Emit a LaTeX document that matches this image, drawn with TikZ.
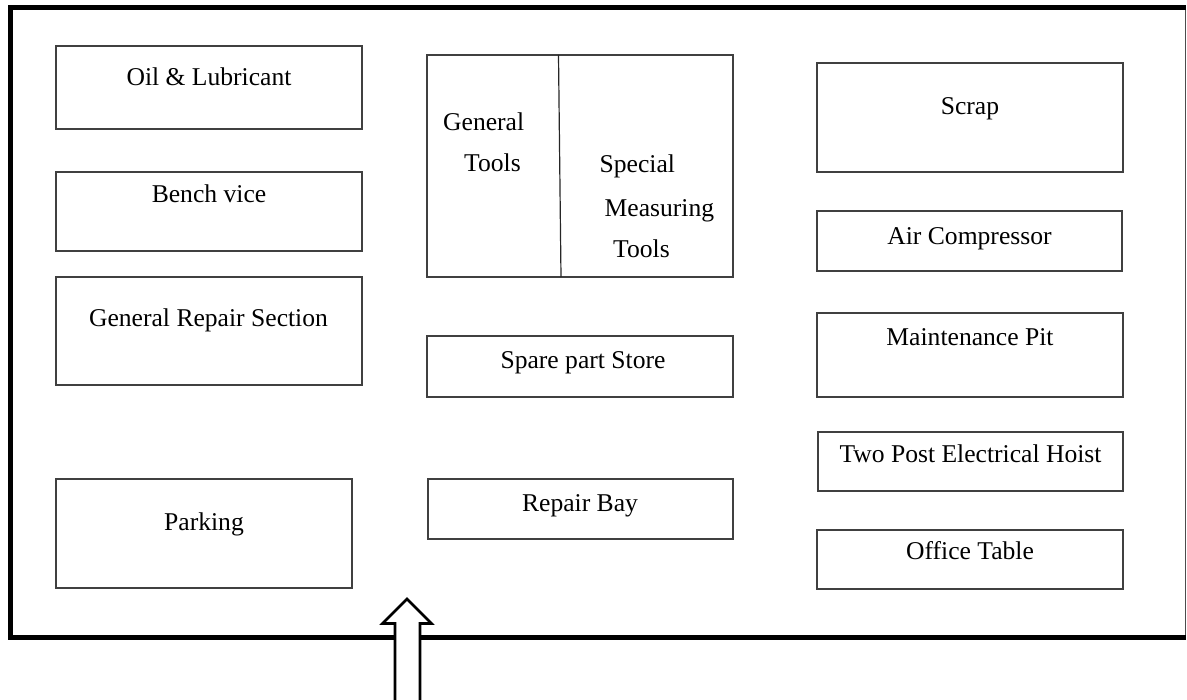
\documentclass[tikz,border=0pt]{standalone}
\usepackage{fontspec}
\setmainfont{Liberation Serif}
\begin{document}
\begin{tikzpicture}[x=1pt,y=-1pt,
  box/.style={draw=black!75, line width=1.2pt, inner sep=0pt, outer sep=0pt, fill=none},
  lbl/.style={inner sep=0pt, anchor=base, font=\fontsize{25.6}{30}\selectfont},
  frame/.style={line width=5.5pt, draw=black},
  entry/.style={draw=black, line width=2.6pt, fill=white, line join=miter}]
\useasboundingbox (0,0) rectangle (1187,700);
% outer frame
\draw[draw=black!70, line width=1.2pt] (1185.5,7.5) -- (1185.5,637.5);
\draw[frame] (1185.5,7.5) -- (10.5,7.5) -- (10.5,637.5) -- (1185.5,637.5);
% left column
\node[box, minimum width=306pt, minimum height=83pt] (oil) at (209,87.5) {};
\node[lbl] (toil) at (209,86) {Oil \& Lubricant};
\node[box, minimum width=306pt, minimum height=79pt] (bench) at (209,211.5) {};
\node[lbl] (tbench) at (209,203) {Bench vice};
\node[box, minimum width=306pt, minimum height=108pt] (grs) at (209,331) {};
\node[lbl] (tgrs) at (208.5,327) {General Repair Section};
\node[box, minimum width=296pt, minimum height=109pt] (park) at (204,533.5) {};
\node[lbl] (tpark) at (204,530.5) {Parking};
% middle column
\node[box, minimum width=306pt, minimum height=222pt] (tools) at (580,166) {};
\draw[draw=black!85, line width=1.2pt] (558.5,55) -- (561,277);
\node[lbl, anchor=base west] (tgen1) at (443,130.5) {General};
\node[lbl, anchor=base west] (tgen2) at (464,172) {Tools};
\node[lbl, anchor=base west] (tsp1) at (599.5,172.5) {Special};
\node[lbl, anchor=base west] (tsp2) at (604.5,216.5) {Measuring};
\node[lbl, anchor=base west] (tsp3) at (613,258) {Tools};
\node[box, minimum width=306pt, minimum height=61pt] (spare) at (580,366.5) {};
\node[lbl] (tspare) at (583,368.5) {Spare part Store};
\node[box, minimum width=305pt, minimum height=60pt] (bay) at (580.5,509) {};
\node[lbl] (tbay) at (580,512) {Repair Bay};
% right column
\node[box, minimum width=306pt, minimum height=109pt] (scrap) at (970,117.5) {};
\node[lbl] (tscrap) at (970,115) {Scrap};
\node[box, minimum width=305pt, minimum height=60pt] (air) at (969.5,241) {};
\node[lbl] (tair) at (969.5,245) {Air Compressor};
\node[box, minimum width=306pt, minimum height=84pt] (pit) at (970,355) {};
\node[lbl] (tpit) at (970,346) {Maintenance Pit};
\node[box, minimum width=305pt, minimum height=59pt] (hoist) at (970.5,461.5) {};
\node[lbl] (thoist) at (970.5,463) {Two Post Electrical Hoist};
\node[box, minimum width=306pt, minimum height=59pt] (office) at (970,559.5) {};
\node[lbl] (toffice) at (970,560) {Office Table};
% entrance arrow
\fill[white] (395,703) -- (395,623.5) -- (382.5,623.5) -- (407,599) -- (431.5,623.5) -- (420,623.5) -- (420,703) -- cycle;
\draw[entry, fill=none] (395,703) -- (395,623.5) -- (382.5,623.5) -- (407,599) -- (431.5,623.5) -- (420,623.5) -- (420,703);
\end{tikzpicture}
\end{document}
